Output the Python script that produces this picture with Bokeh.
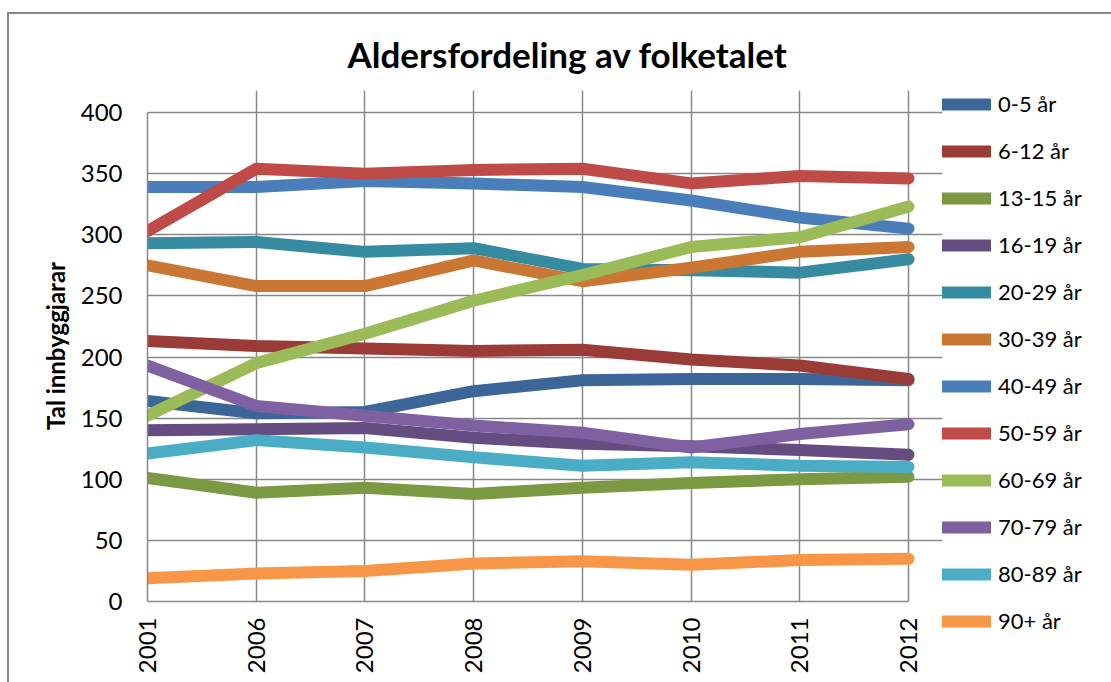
from bokeh.plotting import figure
from bokeh.models import Range1d, FixedTicker, Legend, LegendItem, Title
from bokeh.embed import file_html
from bokeh.resources import INLINE
import math

years = ["2001", "2006", "2007", "2008", "2009", "2010", "2011", "2012"]

s_0_5   = [164, 154, 155, 172, 181, 182, 182, 181]
s_6_12  = [213, 209, 207, 205, 206, 198, 193, 182]
s_13_15 = [101, 89, 93, 88, 93, 97, 100, 102]
s_16_19 = [140, 141, 142, 134, 129, 127, 124, 120]
s_20_29 = [293, 294, 286, 289, 272, 271, 269, 280]
s_30_39 = [275, 258, 258, 279, 262, 273, 286, 290]
s_40_49 = [339, 339, 344, 342, 339, 328, 314, 305]
s_50_59 = [303, 354, 350, 353, 354, 342, 348, 346]
s_60_69 = [152, 195, 219, 246, 267, 290, 298, 323]
s_70_79 = [193, 160, 152, 144, 138, 126, 137, 145]
s_80_89 = [121, 132, 126, 118, 111, 114, 111, 110]
s_90    = [19, 23, 25, 31, 33, 30, 34, 35]

y_ticks = [0, 50, 100, 150, 200, 250, 300, 350, 400]

series_names = ["0-5 år", "6-12 år", "13-15 år", "16-19 år", "20-29 år",
                "30-39 år", "40-49 år", "50-59 år", "60-69 år", "70-79 år",
                "80-89 år", "90+ år"]
series_values = [s_0_5, s_6_12, s_13_15, s_16_19, s_20_29, s_30_39,
                 s_40_49, s_50_59, s_60_69, s_70_79, s_80_89, s_90]
colors = ["#3c6698", "#9a3b38", "#7b9842", "#654c81", "#378ba0", "#c97732",
          "#4a7ebb", "#be4b48", "#9bbb59", "#7f60a0", "#4bacc6", "#f79646"]

FONT = "Lato"
GRID = "#888888"

# ---- layout (page pixels) ----
OX, OY = 9, 17                 # figure content origin on the page (margin + border)
W, H = 1100, 668
PLOT_L, PLOT_R = 147, 908      # where first / last year sit
PLOT_T, PLOT_B = 112, 601      # where y=400 / y=0 sit
FRAME_T = 90                   # frame extends a bit above y=400 (legend top)
FRAME_R = 942                  # frame extends to the legend start

n = len(years) - 1
x_end = n * (FRAME_R - PLOT_L) / (PLOT_R - PLOT_L)
y_top = y_ticks[-1]
y_end = y_top * (PLOT_B - FRAME_T) / (PLOT_B - PLOT_T)

p = figure(frame_width=FRAME_R - PLOT_L, frame_height=PLOT_B - FRAME_T,
           output_backend="svg", toolbar_location=None,
           x_range=Range1d(0, x_end), y_range=Range1d(0, y_end),
           min_border_left=PLOT_L - OX, min_border_right=W - (FRAME_R - OX),
           min_border_top=FRAME_T - OY, min_border_bottom=H - (PLOT_B - OY))
p.styles = {"border-left": "2px solid #888888", "border-top": "2px solid #888888",
            "margin-left": "7px", "margin-top": "12px"}
p.background_fill_color = "white"
p.border_fill_color = "white"
p.outline_line_color = None

x_idx = list(range(len(years)))

items = []
for name, vals, col in zip(series_names, series_values, colors):
    r = p.line(x_idx, vals, line_color=col, line_width=12,
               line_cap="round", line_join="round")
    items.append(LegendItem(label=name, renderers=[r]))

# axes
p.xaxis.ticker = FixedTicker(ticks=x_idx)
p.xaxis.major_label_overrides = {i: y for i, y in enumerate(years)}
p.xaxis.major_label_orientation = math.pi / 2
p.xaxis.bounds = (0, n)
p.yaxis.ticker = FixedTicker(ticks=y_ticks)
p.yaxis.bounds = (0, y_top)
for ax in (p.xaxis[0], p.yaxis[0]):
    ax.axis_line_color = GRID
    ax.axis_line_width = 1.5
    ax.major_tick_line_color = None
    ax.minor_tick_line_color = None
    ax.major_tick_out = 0
    ax.major_tick_in = 0
    ax.major_label_text_font = FONT
    ax.major_label_text_font_size = "24px"
    ax.major_label_text_color = "black"
p.yaxis.major_label_standoff = 25
p.xaxis.major_label_standoff = 16
p.yaxis.axis_label = "Tal innbyggjarar"
p.yaxis.axis_label_text_font = FONT
p.yaxis.axis_label_text_font_size = "24px"
p.yaxis.axis_label_text_font_style = "bold"
p.yaxis.axis_label_text_color = "black"
p.yaxis.axis_label_standoff = 8

p.xgrid.ticker = FixedTicker(ticks=x_idx)
p.xgrid.bounds = (0, y_top)
p.ygrid.ticker = FixedTicker(ticks=y_ticks)
p.ygrid.bounds = (0, n)
for g in (p.xgrid[0], p.ygrid[0]):
    g.grid_line_color = GRID
    g.grid_line_width = 1.5

# title
p.title = Title(text="Aldersfordeling av folketalet", align="left",
                text_font=FONT, text_font_size="35px", text_font_style="bold",
                text_color="black", offset=200, standoff=32)

# legend
legend = Legend(items=items, location="top_left", orientation="vertical",
                glyph_width=49, glyph_height=26, label_height=26,
                label_standoff=7, spacing=20, padding=0, margin=0,
                border_line_color=None, background_fill_alpha=0,
                label_text_font=FONT, label_text_font_size="22px",
                label_text_color="black")
p.add_layout(legend, "right")

open("out.html", "w").write(file_html(p, INLINE))
